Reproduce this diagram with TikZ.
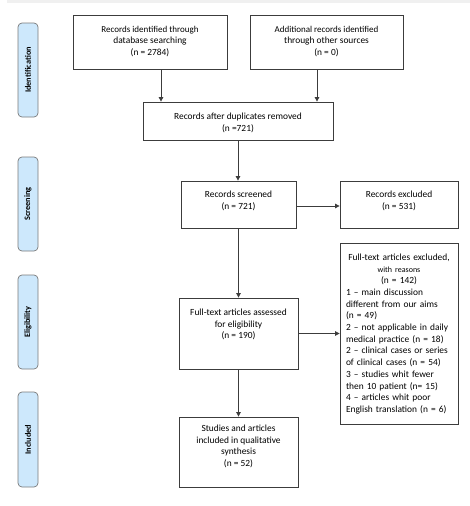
\documentclass[tikz,border=0pt]{standalone}
\usepackage{fontspec}
\setmainfont{Carlito}
\usetikzlibrary{arrows.meta}
\definecolor{edge}{HTML}{3C3C3C}
\definecolor{phasefill}{HTML}{CDE8FC}
\definecolor{phaseedge}{HTML}{7A7A7A}
\tikzset{
  box/.style={draw=edge, line width=0.8pt, inner sep=0pt, fill=white},
  txt/.style={anchor=north, inner sep=0pt, align=center, font=\fontsize{9.4}{11.7}\selectfont},
  arr/.style={draw=edge, line width=0.8pt, -{Triangle[length=4.5pt,width=4.5pt]}},
  phase/.style={draw=phaseedge, fill=phasefill, rounded corners=4pt, line width=0.7pt,
    minimum height=20pt, inner sep=0pt, rotate=90, font=\fontsize{8.3}{9}\selectfont\bfseries}
}
\begin{document}
\begin{tikzpicture}[x=1pt,y=-1pt]
\useasboundingbox (0,0) rectangle (470,506);
\fill[black!6] (7,0) rectangle (470,3);

% phase labels
\node[phase, minimum width=94pt] (pid) at (28,70) {Identification};
\node[phase, minimum width=94pt] (psc) at (28,204) {Screening};
\node[phase, minimum width=94pt] (pel) at (28,322) {Eligibility};
\node[phase, minimum width=95pt] (pin) at (28,439.5) {Included};

% boxes
\node[box, minimum width=154pt, minimum height=54pt] (a) at (150,42) {};
\node[box, minimum width=153pt, minimum height=54pt] (b) at (326.5,42) {};
\node[box, minimum width=190pt, minimum height=38pt] (c) at (238,121) {};
\node[box, minimum width=115pt, minimum height=47pt] (s) at (238.5,204.5) {};
\node[box, minimum width=118pt, minimum height=47pt] (e) at (399,204.5) {};
\node[box, minimum width=119pt, minimum height=71pt] (f) at (238.5,333.5) {};
\node[box, minimum width=118pt, minimum height=181pt] (x) at (399,333.5) {};
\node[box, minimum width=119pt, minimum height=70pt] (i) at (238.5,452) {};

% texts
\node[txt] (at) at ([yshift=-11pt]a.north) {{\fontsize{9}{11.7}\selectfont Records identified through}\\database searching\\(n = 2784)};
\node[txt] (bt) at ([yshift=-11pt]b.north) {{\fontsize{9}{11.7}\selectfont Additional records identified}\\through other sources\\(n = 0)};
\node[txt] (ct) at ([yshift=-11pt]c.north) {Records after duplicates removed\\(n =721)};
\node[txt] (st) at ([yshift=-10pt]s.north) {Records screened\\(n = 721)};
\node[txt] (et) at ([yshift=-10pt]e.north) {Records excluded\\(n = 531)};
\node[txt] (ft) at ([yshift=-11pt]f.north) {Full-text articles assessed\\for eligibility\\(n = 190)};
\node[txt] (it) at ([yshift=-8pt]i.north) {Studies and articles\\included in qualitative\\synthesis\\(n = 52)};
\node[txt, align=left, text width=106pt] (xt) at ([yshift=-11pt]x.north) {%
\makebox[106pt][c]{Full-text articles excluded,}\\
\makebox[106pt][c]{\fontsize{8}{11.7}\selectfont with reasons}\\
\makebox[106pt][c]{(n = 142)}\\
1 -- main discussion\\
different from our aims\\
(n = 49)\\
2 -- not applicable in daily\\
medical practice (n = 18)\\
2 -- clinical cases or series\\
of clinical cases (n = 54)\\
3 -- studies whit fewer\\
then 10 patient (n= 15)\\
4 -- articles whit poor\\
English translation (n = 6)};

% connectors
\draw[arr] ([xshift=11pt]a.south) -- ([xshift=11pt]a.south |- c.north);
\draw[arr] ([xshift=-9.5pt]b.south) -- ([xshift=-9.5pt]b.south |- c.north);
\draw[arr] (c.south) -- (c.south |- s.north);
\draw[arr] ([yshift=-1.5pt]s.east) -- ([yshift=-1.5pt]s.east -| e.west);
\draw[arr] (s.south) -- (s.south |- f.north);
\draw[arr] (f.east) -- (f.east -| x.west);
\draw[arr] (f.south) -- (f.south |- i.north);
\end{tikzpicture}
\end{document}
